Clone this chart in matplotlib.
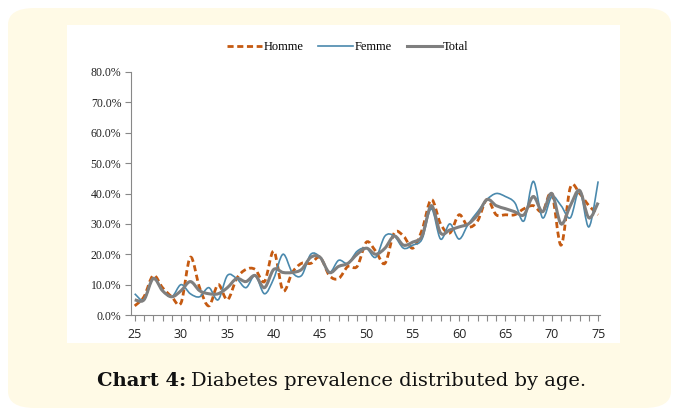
import numpy as np
import matplotlib
matplotlib.use("Agg")
import matplotlib.pyplot as plt
from matplotlib.path import Path
from matplotlib.patches import PathPatch, FancyBboxPatch, Rectangle
from matplotlib.lines import Line2D
from matplotlib.ticker import MultipleLocator, FuncFormatter

ages = list(range(25, 76))

homme = [3, 6, 13, 9, 6, 4, 19, 9, 3, 10, 5, 12, 15, 15, 11, 21, 8, 14, 17, 17,
         19, 13, 12, 16, 16, 24, 21, 17, 27, 26, 22, 28, 38, 30, 27, 33, 29, 31,
         38, 33, 33, 33, 35, 36, 34, 40, 23, 42, 40, 36, 33]
femme = [7, 5, 12, 8, 6, 10, 7, 6, 9, 5, 13, 12, 9, 13, 7, 12, 20, 14, 13, 20,
         19, 14, 18, 17, 21, 22, 19, 26, 26, 22, 23, 25, 35, 25, 30, 25, 30, 34,
         38, 40, 39, 37, 31, 44, 32, 39, 36, 32, 41, 29, 44]
total = [5, 5, 12, 8, 6, 8, 11, 8, 7, 7, 9, 12, 11, 13, 9, 15, 14, 14, 15, 19,
         19, 14, 16, 17, 20, 22, 20, 22, 26, 23, 24, 26, 36, 27, 28, 29, 30, 33,
         38, 36, 35, 34, 33, 39, 34, 40, 30, 36, 41, 32, 37]

series_names = ["Homme", "Femme", "Total"]


# smoothed line like excel (catmull-rom as bezier)
def smooth_path(x, y):
    x = np.asarray(x, float)
    y = np.asarray(y, float) / 100.0
    pts = np.column_stack([x, y])
    verts = [pts[0]]
    codes = [Path.MOVETO]
    n = len(pts)
    for i in range(n - 1):
        p0 = pts[max(i - 1, 0)]
        p1 = pts[i]
        p2 = pts[i + 1]
        p3 = pts[min(i + 2, n - 1)]
        c1 = p1 + (p2 - p0) / 6.0
        c2 = p2 - (p3 - p1) / 6.0
        verts += [c1, c2, p2]
        codes += [Path.CURVE4] * 3
    return Path(verts, codes)


fig = plt.figure(figsize=(6.79, 4.16), dpi=100)
fig.patch.set_facecolor("white")

# cream rounded frame
fig.patches.append(FancyBboxPatch((8 / 679, 8 / 416), 663 / 679, 400 / 416,
                                  boxstyle="round,pad=0,rounding_size=0.04",
                                  transform=fig.transFigure, facecolor="#fffae6",
                                  edgecolor="none", zorder=0))
# white chart panel
fig.patches.append(Rectangle((67 / 679, 1 - 343 / 416), 553 / 679, 318 / 416,
                             transform=fig.transFigure, facecolor="white",
                             edgecolor="none", zorder=1))

ax = fig.add_axes([131 / 679, 1 - 315 / 416, 469 / 679, 243 / 416])
ax.set_facecolor("none")
ax.set_zorder(3)

styles = [
    dict(color="#c55a11", lw=2.0, ls=(0, (2.2, 1.3))),
    dict(color="#4a89ad", lw=1.2, ls="-"),
    dict(color="#7f7f7f", lw=2.2, ls="-"),
]

for vals, st in zip([homme, femme, total], styles):
    ax.add_patch(PathPatch(smooth_path(ages, vals), fill=False, edgecolor=st["color"],
                           lw=st["lw"], ls=st["ls"], capstyle="butt"))

ax.set_xlim(24.6, 75.2)
ax.set_ylim(0, 0.8)
ax.xaxis.set_major_locator(MultipleLocator(5))
ax.xaxis.set_minor_locator(MultipleLocator(1))
ax.yaxis.set_major_locator(MultipleLocator(0.1))
ax.yaxis.set_major_formatter(FuncFormatter(lambda v, p: f"{v * 100:.1f}%"))

for s in ["top", "right"]:
    ax.spines[s].set_visible(False)
for s in ["left", "bottom"]:
    ax.spines[s].set_color("#888888")
    ax.spines[s].set_linewidth(0.8)

ax.tick_params(axis="both", which="both", color="#888888",
               labelcolor="#222222", width=0.8)
ax.tick_params(axis="x", which="both", direction="out", length=4, pad=5, labelsize=9)
ax.tick_params(axis="y", direction="out", length=4, pad=3, labelsize=8.5)
for lab in ax.get_xticklabels():
    lab.set_family("Open Sans")
for lab in ax.get_yticklabels():
    lab.set_family("Liberation Serif")

handles = [Line2D([], [], **st) for st in styles]
leg = fig.legend(handles, series_names, loc="center", bbox_to_anchor=(348 / 679, 1 - 47 / 416),
                 ncol=3, frameon=False, handlelength=2.8, columnspacing=1.2,
                 handletextpad=0.1, prop={"family": "Liberation Serif", "size": 9})
leg.set_zorder(4)

t1 = fig.text(97 / 679, 1 - 381 / 416, "Chart 4:", fontsize=14, fontweight="bold",
              family="DejaVu Serif", va="center", ha="left", color="#111111")
fig.canvas.draw()
bb = t1.get_window_extent()
fig.text((bb.x1 + 5) / 679, 1 - 381 / 416, "Diabetes prevalence distributed by age.",
         fontsize=14, family="DejaVu Serif", va="center", ha="left", color="#111111")

fig.savefig("out.png", dpi=100)
